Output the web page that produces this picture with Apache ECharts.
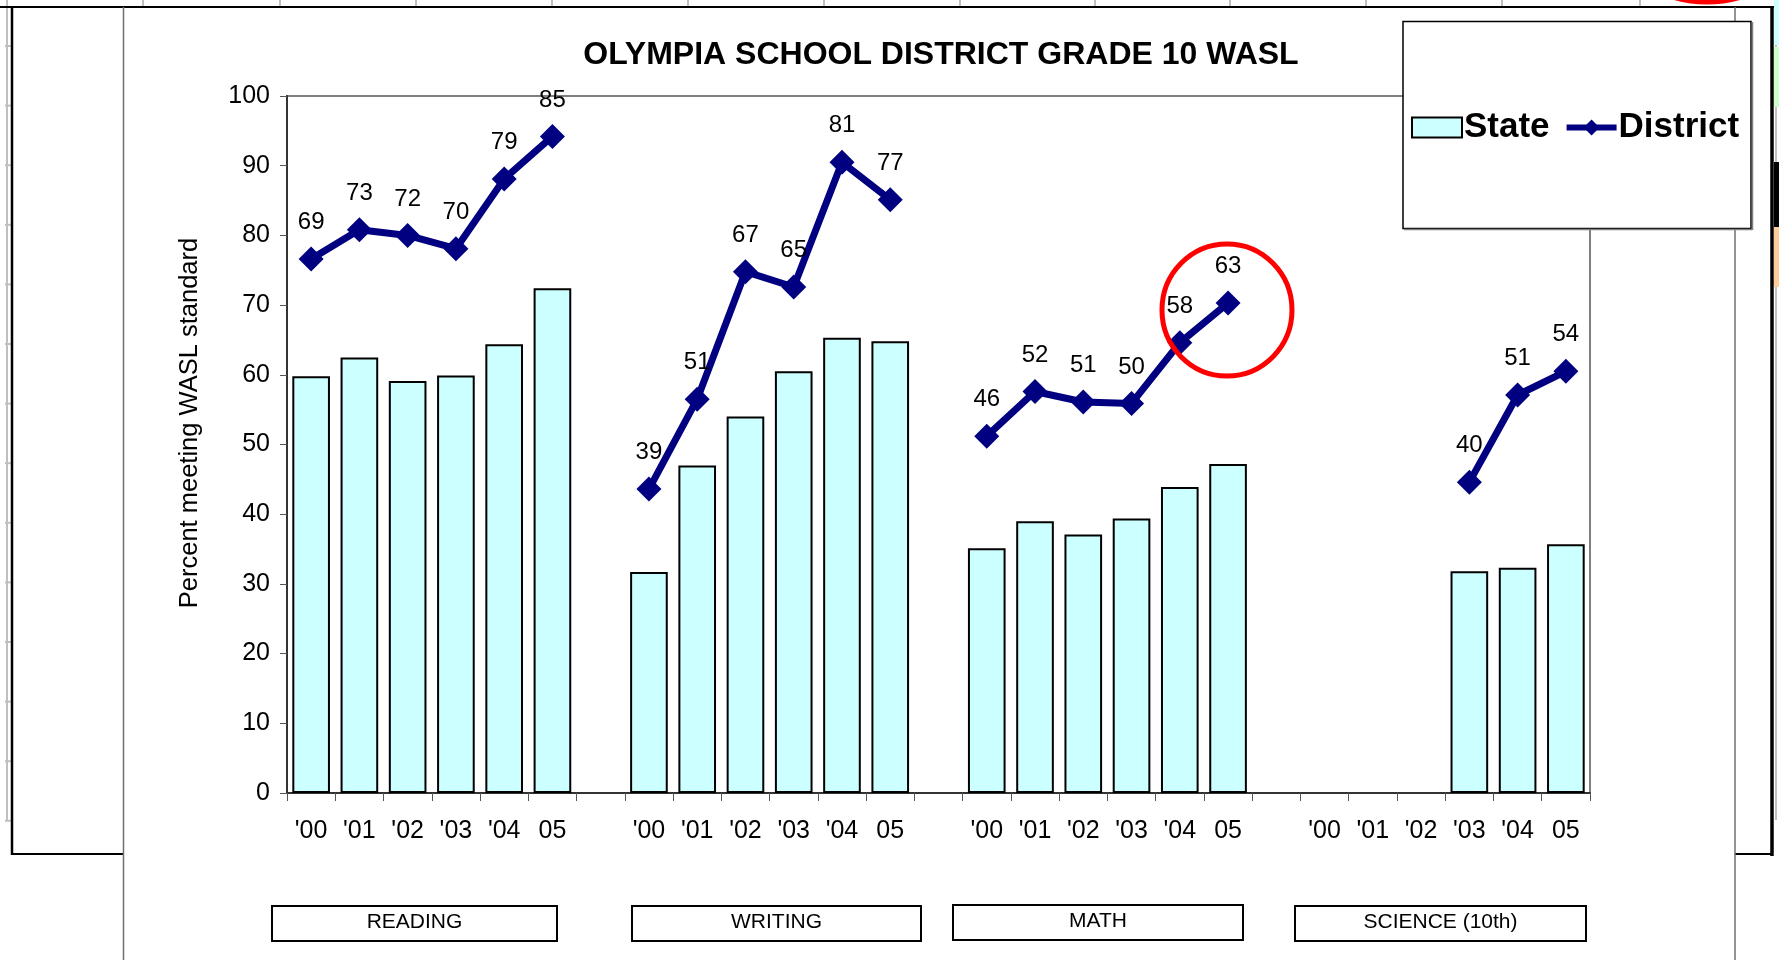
<!DOCTYPE html>
<html>
<head>
<meta charset="utf-8">
<style>
html,body{margin:0;padding:0;background:#fff;}
#chart{width:1783px;height:960px;}
</style>
<script src="https://cdn.jsdelivr.net/npm/echarts@6/dist/echarts.min.js"></script>
</head>
<body>
<div id="chart"></div>
<script>
// ---- data ----
var categories = ['R00','R01','R02','R03','R04','R05','g1',
                  'W00','W01','W02','W03','W04','W05','g2',
                  'M00','M01','M02','M03','M04','M05','g3',
                  'S00','S01','S02','S03','S04','S05'];
var tickLabels = ["'00","'01","'02","'03","'04","05","",
                  "'00","'01","'02","'03","'04","05","",
                  "'00","'01","'02","'03","'04","05","",
                  "'00","'01","'02","'03","'04","05"];
var stateValues = [59.8,62.5,59.1,59.9,64.4,72.4,null,
                   31.7,47.0,54.0,60.5,65.3,64.8,null,
                   35.1,39.0,37.1,39.4,43.9,47.2,null,
                   null,null,null,31.8,32.3,35.7];
var districtValues = [76.6,80.8,80.0,78.1,88.1,94.2,null,
                      43.6,56.5,74.8,72.6,90.5,85.1,null,
                      51.2,57.6,56.1,55.9,64.6,70.3,null,
                      null,null,null,44.6,57.1,60.5];
var districtLabels = ['69','73','72','70','79','85',null,
                      '39','51','67','65','81','77',null,
                      '46','52','51','50','58','63',null,
                      null,null,null,'40','51','54'];
var groupNames = ['READING','WRITING','MATH','SCIENCE (10th)'];
var title = 'OLYMPIA SCHOOL DISTRICT GRADE 10 WASL';
var yAxisTitle = 'Percent meeting WASL standard';

// ---- layout / decoration ----
var FONT = '"Liberation Sans", Arial, sans-serif';
var groupBoxes = [[272,906,285,35],[632,906,289,35],[953,905,290,35],[1295,906,291,35]];
var graphics = [];
function line(x1,y1,x2,y2,color,w,z){
  graphics.push({type:'line',shape:{x1:x1,y1:y1,x2:x2,y2:y2},style:{stroke:color,lineWidth:w},z:z||1,silent:true});
}
// spreadsheet grid at top
[143,280,416,552,688,824,960,1095,1230,1366,1502,1640].forEach(function(x){ line(x,0,x,7,'#c0c0c0',2); });
// spreadsheet grid at left
line(7,0,7,820,'#c0c0c0',2);
for (var i=0;i<14;i++){ var yy=46+i*59.6; line(5,yy,11,yy,'#c0c0c0',2); }
// spreadsheet grid at right
line(1776,0,1776,820,'#c0c0c0',2);
graphics.push({type:'rect',shape:{x:1774,y:0,width:5,height:45},style:{fill:'#ccffff'},z:1,silent:true});
graphics.push({type:'rect',shape:{x:1774,y:47,width:5,height:60},style:{fill:'#ccffcc'},z:1,silent:true});
graphics.push({type:'rect',shape:{x:1774,y:162,width:5,height:65},style:{fill:'#000'},z:1,silent:true});
graphics.push({type:'rect',shape:{x:1774,y:227,width:5,height:60},style:{fill:'#ffcc99'},z:1,silent:true});
// black frame
line(0,7,1774,7,'#000',2);
line(12,7,12,855,'#000',2.5);
line(11,854,123,854,'#000',2);
line(1772,7,1772,856,'#000',3.5);
line(1735,854,1773,854,'#000',2);
// chart box borders
line(123.5,7,123.5,960,'#707070',1.5);
line(1735,7,1735,960,'#707070',1.5);
// red circle at top
graphics.push({type:'circle',shape:{cx:1707,cy:-118,r:120},style:{fill:null,stroke:'#ff0000',lineWidth:5},z:1,silent:true});
// legend box
graphics.push({type:'rect',shape:{x:1403,y:21.5,width:348,height:207},style:{fill:'#fff',stroke:'#000',lineWidth:1.5},z:3,silent:true});
line(1404,229.5,1752,229.5,'#808080',1.5,3);
line(1752.5,22,1752.5,230,'#808080',1.5,3);
// red highlight circle
graphics.push({type:'ellipse',shape:{cx:1227,cy:310,rx:65,ry:66},style:{fill:null,stroke:'#ff0000',lineWidth:5},z:20,silent:true});
// y axis title
graphics.push({type:'text',x:190,y:423,rotation:Math.PI/2,style:{text:yAxisTitle,font:'25.5px '+FONT,fill:'#000',align:'center',verticalAlign:'middle'},z:3,silent:true});
// group label boxes
groupBoxes.forEach(function(b,k){
  graphics.push({type:'rect',shape:{x:b[0],y:b[1],width:b[2],height:b[3]},style:{fill:'#fff',stroke:'#000',lineWidth:2},z:2,silent:true});
  graphics.push({type:'text',x:b[0]+b[2]/2,y:b[1]+b[3]/2-1,style:{text:groupNames[k],font:'21px '+FONT,fill:'#000',align:'center',verticalAlign:'middle'},z:3,silent:true});
});

var chart = echarts.init(document.getElementById('chart'), null, {renderer:'canvas'});
chart.setOption({
  animation:false,
  backgroundColor:'#fff',
  title:{
    text:title, left:941, top:39, textAlign:'center', padding:0,
    textStyle:{fontFamily:FONT,fontSize:32,fontWeight:'bold',color:'#000'}
  },
  legend:{
    left:1411, top:110, padding:0, itemGap:14, itemWidth:50, itemHeight:20, z:6,
    textStyle:{fontFamily:FONT,fontSize:35,fontWeight:'bold',color:'#000',padding:[0,0,0,-3]},
    data:[
      {name:'State',icon:'rect',itemStyle:{color:'#ccffff',borderColor:'#000',borderWidth:2}},
      {name:'District',lineStyle:{width:6,color:'#000080'},itemStyle:{color:'#000080'}}
    ]
  },
  grid:{
    left:287, right:193, top:96, bottom:167, outerBoundsMode:'none', containLabel:false,
    show:true, borderColor:'#808080', borderWidth:2, backgroundColor:'transparent'
  },
  xAxis:{
    type:'category', data:categories, boundaryGap:true,
    axisLine:{lineStyle:{color:'#333',width:2}},
    axisTick:{show:true,interval:0,length:8,lineStyle:{color:'#555',width:1}},
    axisLabel:{interval:0,margin:26,fontFamily:FONT,fontSize:25,color:'#000',
      formatter:function(v,i){return tickLabels[i];}},
    splitLine:{show:false}
  },
  yAxis:{
    type:'value', min:0, max:100, interval:10,
    axisLine:{show:true,lineStyle:{color:'#333',width:2}},
    axisTick:{show:true,length:7,lineStyle:{color:'#555'}},
    axisLabel:{margin:17,fontFamily:FONT,fontSize:25,color:'#000'},
    splitLine:{show:false}
  },
  series:[
    {
      name:'State', type:'bar', data:stateValues, barCategoryGap:'22%',
      itemStyle:{color:'#ccffff',borderColor:'#000',borderWidth:2},
      z:2
    },
    {
      name:'District', type:'line', data:districtValues, connectNulls:false,
      symbol:'diamond', symbolSize:25, showAllSymbol:true,
      lineStyle:{color:'#000080',width:7},
      itemStyle:{color:'#000080'},
      label:{show:true,position:'top',distance:12,fontFamily:FONT,fontSize:24,color:'#000',
        formatter:function(p){return districtLabels[p.dataIndex];}},
      z:5
    }
  ],
  graphic:{elements:graphics}
});
</script>
</body>
</html>
